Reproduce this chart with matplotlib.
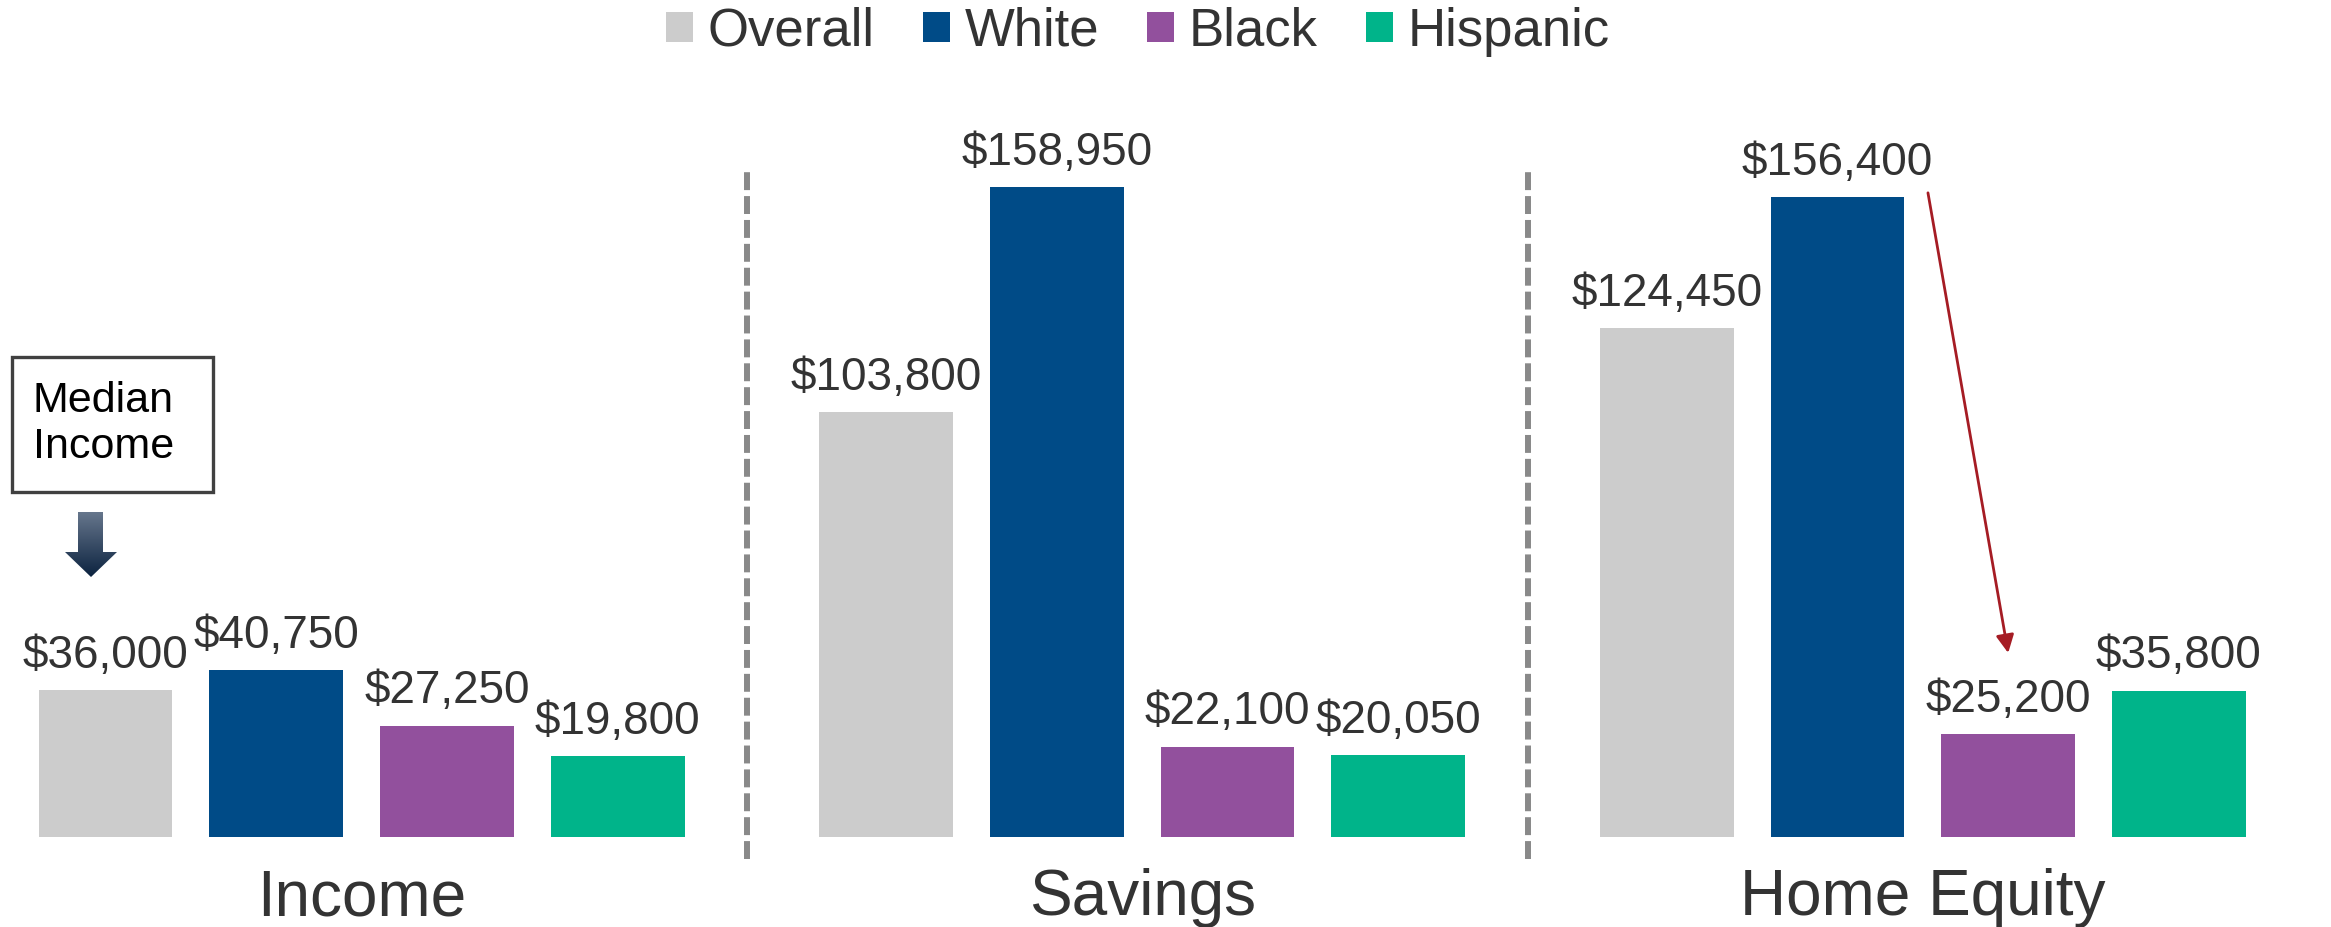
import numpy as np
import matplotlib
matplotlib.use("Agg")
import matplotlib.pyplot as plt
from matplotlib.patches import Rectangle, Polygon
from matplotlib.colors import LinearSegmentedColormap

plt.rcParams['font.family'] = ['Liberation Sans', 'DejaVu Sans']

# data
categories = ['Income', 'Savings', 'Home Equity']
series = ['Overall', 'White', 'Black', 'Hispanic']
overall = [36000, 103800, 124450]
white = [40750, 158950, 156400]
black = [27250, 22100, 25200]
hispanic = [19800, 20050, 35800]
colors = ['#cccccc', '#004b87', '#92509d', '#00b48a']

values = [overall, white, black, hispanic]
text_color = '#333333'
group_step = 4.573
bar_w = 0.784

fig = plt.figure(figsize=(23.31, 9.27), dpi=100)
ax = fig.add_axes([0, 0, 1, 1])
ax.set_xlim(-0.618, 13.037)
ax.set_ylim(-90 * 244.5, 837 * 244.5)
ax.axis('off')

handles = []
for i, (name, vals, col) in enumerate(zip(series, values, colors)):
    xs = np.arange(len(categories)) * group_step + i
    bars = ax.bar(xs, vals, width=bar_w, color=col, label=name)
    handles.append(bars)
    for x, v in zip(xs, vals):
        ax.annotate(f"${v:,}", (x, v), xytext=(0, 16), textcoords='offset points',
                    ha='center', va='baseline', fontsize=33, color=text_color)

# category labels under each group
for g, cat in enumerate(categories):
    ax.text(g * group_step + 1.5, 12 / 927, cat, transform=ax.get_xaxis_transform(),
            ha='center', va='baseline', fontsize=46, color=text_color)

# dashed separators between groups
for g in range(len(categories) - 1):
    ax.axvline(g * group_step + (3 + group_step) / 2 - 0.026, ymin=68 / 927, ymax=756 / 927,
               color='#898989', lw=4.3, linestyle=(0, (3, 1)), dash_capstyle='butt')

# red arrow from White to Black home equity
he = 2 * group_step
ax.annotate('', xy=(he + 2, 45000), xytext=(he + 1.53, 157500),
            arrowprops=dict(arrowstyle='-|>,head_length=0.6,head_width=0.3',
                            color='#a51c24', lw=2, mutation_scale=18,
                            shrinkA=0, shrinkB=0))

# overlay in pixel space for the callout box
ov = fig.add_axes([0, 0, 1, 1])
ov.axis('off')
ov.add_patch(Rectangle((12, 357), 201, 135, fill=False, edgecolor='#404040', lw=2.4))
ov.text(33, 424, "Median\nIncome", ha='left', va='center', fontsize=31, color='black',
        linespacing=1.2)

arrow = Polygon([(78, 512), (103, 512), (103, 552), (117, 552), (91, 577),
                 (65, 552), (78, 552)], closed=True, facecolor='none', edgecolor='none')
ov.add_patch(arrow)
cmap = LinearSegmentedColormap.from_list('arr', ['#66768c', '#0c2340'])
grad = np.linspace(0, 1, 100).reshape(-1, 1)
im = ov.imshow(grad, cmap=cmap, extent=(65, 117, 577, 512), aspect='auto', origin='upper')
im.set_clip_path(arrow)
ov.set_xlim(0, 2331)
ov.set_ylim(927, 0)

fig.legend(handles=handles, loc='center', bbox_to_anchor=(1138 / 2331, 1 - 32 / 927),
           ncol=4, frameon=False, fontsize=38, handlelength=0.51, handleheight=0.51,
           handletextpad=0.28, columnspacing=0.91, labelcolor=text_color)

fig.savefig('out.png', dpi=100)
